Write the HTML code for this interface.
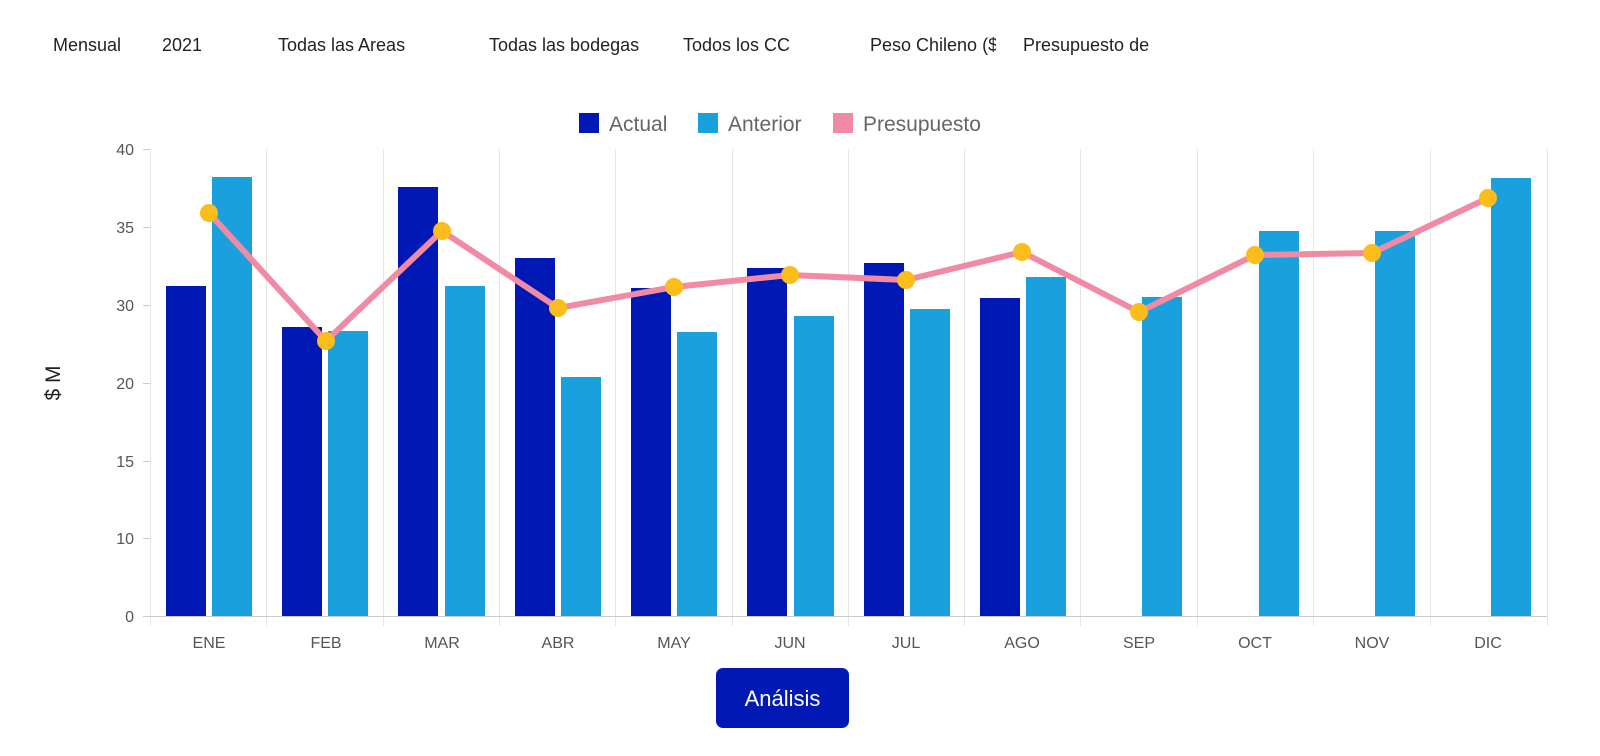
<!DOCTYPE html>
<html><head><meta charset="utf-8"><style>
body{margin:0;background:#fff;width:1600px;height:756px;overflow:hidden;font-family:"Liberation Sans",sans-serif}
.f{position:absolute;top:35px;font-size:18px;color:#222;white-space:nowrap;overflow:hidden}
</style></head><body>
<div class="f" style="left:53px">Mensual</div>
<div class="f" style="left:162px">2021</div>
<div class="f" style="left:278px">Todas las Areas</div>
<div class="f" style="left:489px;width:152px">Todas las bodegas</div>
<div class="f" style="left:683px">Todos los CC</div>
<div class="f" style="left:870px;width:126px">Peso Chileno ($)</div>
<div class="f" style="left:1023px;width:126px">Presupuesto del</div>
<svg width="1600" height="756" style="position:absolute;left:0;top:0" font-family="Liberation Sans, sans-serif">
<rect x="579" y="113" width="20" height="20" fill="#0019b4"/>
<text x="609" y="131" font-size="21" fill="#666">Actual</text>
<rect x="698" y="113" width="20" height="20" fill="#1ba0de"/>
<text x="728" y="131" font-size="21" fill="#666">Anterior</text>
<rect x="833" y="113" width="20" height="20" fill="#f08aa5"/>
<text x="863" y="131" font-size="21" fill="#666">Presupuesto</text>
<g stroke="#e6e6e6" stroke-width="1">
<line x1="150.5" y1="149" x2="150.5" y2="626"/>
<line x1="266.5" y1="149" x2="266.5" y2="626"/><line x1="383.5" y1="149" x2="383.5" y2="626"/>
<line x1="499.5" y1="149" x2="499.5" y2="626"/><line x1="615.5" y1="149" x2="615.5" y2="626"/>
<line x1="732.5" y1="149" x2="732.5" y2="626"/><line x1="848.5" y1="149" x2="848.5" y2="626"/>
<line x1="964.5" y1="149" x2="964.5" y2="626"/><line x1="1080.5" y1="149" x2="1080.5" y2="626"/>
<line x1="1197.5" y1="149" x2="1197.5" y2="626"/><line x1="1313.5" y1="149" x2="1313.5" y2="626"/>
<line x1="1430.5" y1="149" x2="1430.5" y2="626"/><line x1="1547.5" y1="149" x2="1547.5" y2="626"/>
</g>
<g stroke="#ccc"><line x1="143" y1="616.5" x2="1547" y2="616.5"/>
<line x1="143" y1="149.5" x2="150" y2="149.5"/><line x1="143" y1="227.5" x2="150" y2="227.5"/><line x1="143" y1="305.5" x2="150" y2="305.5"/><line x1="143" y1="383.5" x2="150" y2="383.5"/><line x1="143" y1="461.5" x2="150" y2="461.5"/><line x1="143" y1="538.5" x2="150" y2="538.5"/></g>
<g font-size="16" fill="#555" text-anchor="end">
<text x="134" y="155">40</text><text x="134" y="233">35</text><text x="134" y="311">30</text><text x="134" y="389">20</text><text x="134" y="467">15</text><text x="134" y="544">10</text><text x="134" y="622">0</text></g>
<text transform="translate(60,383) rotate(-90)" font-size="21" fill="#222" text-anchor="middle">$ M</text>
<g fill="#0019b4">
<rect x="166" y="286" width="40" height="330"/><rect x="282" y="327" width="40" height="289"/>
<rect x="398" y="187" width="40" height="429"/><rect x="515" y="258" width="40" height="358"/>
<rect x="631" y="288" width="40" height="328"/><rect x="747" y="268" width="40" height="348"/>
<rect x="864" y="263" width="40" height="353"/><rect x="980" y="298" width="40" height="318"/></g>
<g fill="#1ba0de">
<rect x="212" y="177" width="40" height="439"/><rect x="328" y="331" width="40" height="285"/>
<rect x="445" y="286" width="40" height="330"/><rect x="561" y="377" width="40" height="239"/>
<rect x="677" y="332" width="40" height="284"/><rect x="794" y="316" width="40" height="300"/>
<rect x="910" y="309" width="40" height="307"/><rect x="1026" y="277" width="40" height="339"/>
<rect x="1142" y="297" width="40" height="319"/><rect x="1259" y="231" width="40" height="385"/>
<rect x="1375" y="231" width="40" height="385"/><rect x="1491" y="178" width="40" height="438"/></g>
<polyline fill="none" stroke="#f08aa5" stroke-width="6" stroke-linejoin="round" points="209,213 326,341 442,231 558,308 674,287 790,275 906,280 1022,252 1139,312 1255,255 1372,253 1488,198"/>
<g fill="#fbbd1b">
<circle cx="209" cy="213" r="9"/><circle cx="326" cy="341" r="9"/><circle cx="442" cy="231" r="9"/><circle cx="558" cy="308" r="9"/><circle cx="674" cy="287" r="9"/><circle cx="790" cy="275" r="9"/><circle cx="906" cy="280" r="9"/><circle cx="1022" cy="252" r="9"/><circle cx="1139" cy="312" r="9"/><circle cx="1255" cy="255" r="9"/><circle cx="1372" cy="253" r="9"/><circle cx="1488" cy="198" r="9"/></g>
<g font-size="16" fill="#555" text-anchor="middle">
<text x="209" y="648">ENE</text><text x="326" y="648">FEB</text><text x="442" y="648">MAR</text><text x="558" y="648">ABR</text><text x="674" y="648">MAY</text><text x="790" y="648">JUN</text><text x="906" y="648">JUL</text><text x="1022" y="648">AGO</text><text x="1139" y="648">SEP</text><text x="1255" y="648">OCT</text><text x="1372" y="648">NOV</text><text x="1488" y="648">DIC</text></g>
<rect x="716" y="668" width="133" height="60" rx="7" fill="#0019b4"/>
<text x="782.5" y="706" font-size="22" fill="#fff" text-anchor="middle">Análisis</text>
</svg>
</body></html>
